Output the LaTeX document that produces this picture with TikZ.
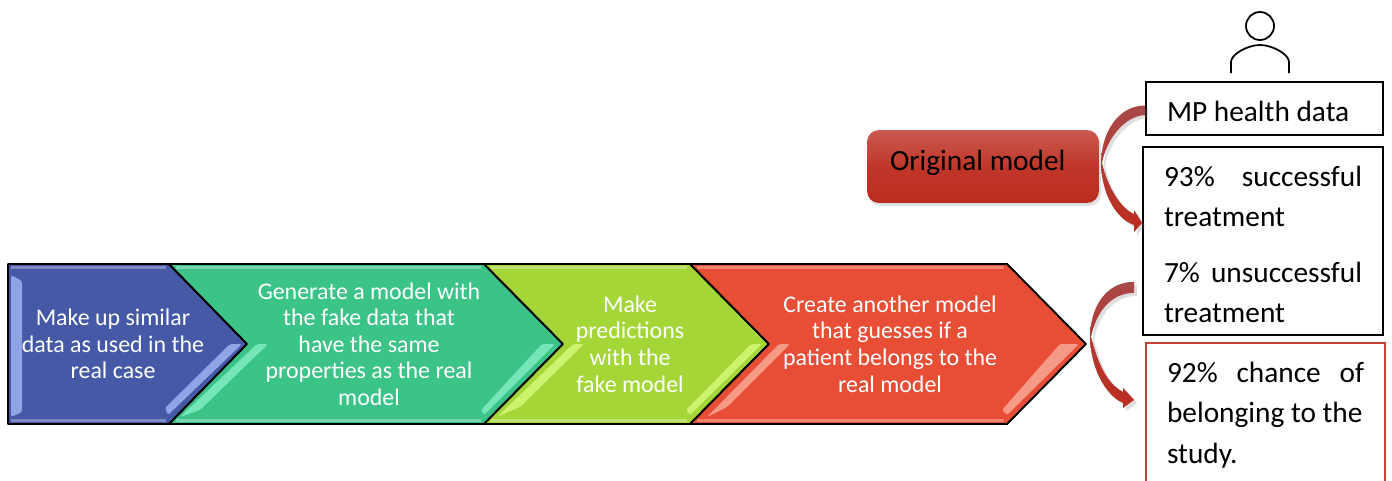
\documentclass[tikz,border=0pt]{standalone}
\usepackage{fontspec}
\setmainfont{Carlito}
\usetikzlibrary{positioning, shadows}
\definecolor{stepblue}{HTML}{4559A6}
\definecolor{stepgreen}{HTML}{3CC388}
\definecolor{steplime}{HTML}{A4D637}
\definecolor{stepred}{HTML}{E84E36}
\definecolor{boxred}{HTML}{C8403A}
\definecolor{stripblue}{HTML}{8FA5E6}
\definecolor{stripgreen}{HTML}{74E6B8}
\definecolor{striplime}{HTML}{CCF26E}
\definecolor{stripred}{HTML}{F49A86}
\definecolor{darkred}{HTML}{BC2C1E}
\definecolor{fadedred}{HTML}{A84848}
\definecolor{lightred}{HTML}{CA5A50}

\begin{document}
\begin{tikzpicture}[
          x=0.02cm,
          y=-0.02cm,
          chevron/.style = {draw=black, line width=1.1pt, line join=round},
          strip/.style = {rounded corners=1pt},
          steptext/.style = {text=white, align=flush center, font=\fontsize{13.6}{15.1}\selectfont},
          whitebox/.style = {draw=black, line width=1.1pt, inner xsep=0.42cm, inner ysep=0pt, align=flush left, font=\fontsize{16.7}{22.8}\selectfont},
          curvearrow/.style = {top color=fadedred, bottom color=darkred, draw=none, drop shadow={shadow xshift=0.06cm, shadow yshift=-0.06cm, opacity=0.25}}
         ]

        \clip (0,0) rectangle (1392,480);

        % Chevrons
        \draw[chevron, fill=stepblue] (8,264) -- (169,264) -- (247,344) -- (169,424) -- (8,424) -- cycle;
        \draw[chevron, fill=stepgreen] (169,264) -- (484,264) -- (563,344) -- (484,424) -- (169,424) -- (247,344) -- cycle;
        \draw[chevron, fill=steplime] (484,264) -- (690,264) -- (769,344) -- (690,424) -- (484,424) -- (563,344) -- cycle;
        \draw[chevron, fill=stepred] (690,264) -- (1007,264) -- (1086,344) -- (1007,424) -- (690,424) -- (769,344) -- cycle;

        % Highlights
        \draw[white, opacity=0.3, line width=1.5pt] (11,267.5) -- (166,267.5) (176,267.5) -- (481,267.5) (491,267.5) -- (687,267.5) (697,267.5) -- (1004,267.5);
        \draw[white, opacity=0.3, line width=1.5pt] (11,420.5) -- (166,420.5) (176,420.5) -- (481,420.5) (491,420.5) -- (687,420.5) (697,420.5) -- (1004,420.5);
        \fill[strip, fill=stripblue] (11,275) -- (22,281) -- (22,412) -- (11,417) -- cycle;
        \fill[strip, fill=stripblue] (165,408) -- (230,344) -- (242,344) -- (168,415) -- cycle;
        \fill[strip, fill=stripgreen] (180,417) -- (257,344) -- (268,344) -- (200,410) -- cycle;
        \fill[strip, fill=stripgreen] (481,410) -- (542,344) -- (555,344) -- (484,415) -- cycle;
        \fill[strip, fill=striplime] (497,417) -- (573,344) -- (584,344) -- (520,407) -- cycle;
        \fill[strip, fill=striplime] (686,410) -- (751,344) -- (762,344) -- (690,415) -- cycle;
        \fill[strip, fill=stripred] (707,417) -- (779,344) -- (790,344) -- (727,407) -- cycle;
        \fill[strip, fill=stripred] (1002,410) -- (1060,344) -- (1079,344) -- (1007,415) -- cycle;

        % Chevron texts
        \node[steptext] (makeup) at (113,344) {Make up similar\\data as used in the\\real case};
        \node[steptext] (generate) at (369,344) {Generate a model with\\the fake data that\\have the same\\properties as the real\\model};
        \node[steptext] (predict) at (630,344) {Make\\predictions\\with the\\fake model};
        \node[steptext] (guess) at (890,344) {Create another model\\that guesses if a\\patient belongs to the\\real model};

        % Person
        \draw[line width=1pt] (1260,26) circle (14);
        \draw[line width=1pt] (1231,73) -- (1231,62) .. controls (1231,54) and (1248,45) .. (1260,45) .. controls (1272,45) and (1289,54) .. (1289,62) -- (1289,73);

        % Boxes on the right
        \node[whitebox, minimum width=4.74cm, minimum height=1.06cm, text width=3.9cm] (healthdata) at (1264.5,108.5) {\rule{0pt}{0.51cm}MP health data};
        \node[whitebox, below=0.2cm of healthdata, xshift=-0.03cm, minimum width=4.8cm, minimum height=3.76cm, text width=3.96cm] (outcome) {\rule{0pt}{0.55cm}93\%\hfill successful\\treatment\\[0.32cm]7\%\hfill unsuccessful\\treatment};
        \node[whitebox, draw=boxred, below=0.12cm of outcome, xshift=0.05cm, minimum width=4.78cm, minimum height=2.8cm, text width=3.94cm] (chance) {\rule{0pt}{0.5cm}92\%\hfill chance\hfill of\\belonging to the\\study.};

        % Original model
        \node[draw=none, rounded corners=0.24cm, top color=lightred, bottom color=darkred, middle color=darkred!95!white, drop shadow={shadow xshift=0.04cm, shadow yshift=-0.06cm, opacity=0.25}, minimum width=4.64cm, minimum height=1.46cm, text width=4.64cm, inner sep=0pt, align=flush left, font=\fontsize{16.7}{18}\selectfont] (original) at (983,166.5) {\hspace*{0.46cm}\rule[-0.26cm]{0pt}{0pt}Original model};

        % Curved arrows
        \begin{scope}[shift={(healthdata.west)}]
          \path[curvearrow] (0,-3) .. controls (-28,-3) and (-44,26) .. (-44,54.5) .. controls (-44,81.5) and (-31,109.5) .. (-11,116.5) -- (-11,123.5) -- (-3,114.5) -- (-11,101.5) -- (-11,105.5) .. controls (-24,100) and (-37,80) .. (-43,54.5) .. controls (-39,31.5) and (-21,7.5) .. (0,6.5) -- cycle;
        \end{scope}
        \begin{scope}[shift={(outcome.west)}]
          \path[curvearrow] (-8,41) .. controls (-38,41) and (-52,69) .. (-52,96) .. controls (-52,124) and (-38,154) .. (-19,162) -- (-19,167) -- (-8,159) -- (-19,147) -- (-19,151) .. controls (-36,142) and (-44,122) .. (-51,96) .. controls (-46,71) and (-31,52) .. (-8,52) -- cycle;
        \end{scope}

\end{tikzpicture}
\end{document}
